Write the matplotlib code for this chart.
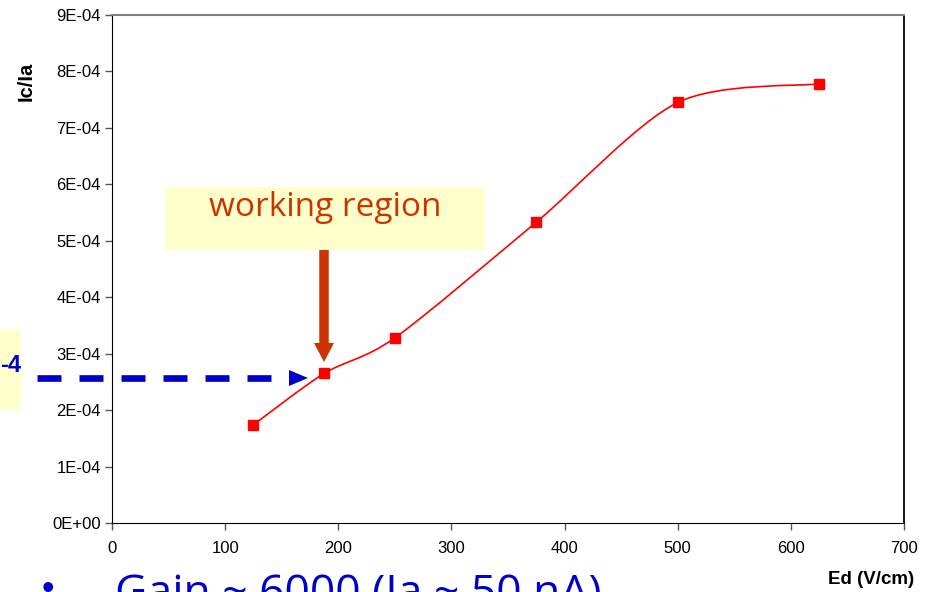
import numpy as np
import matplotlib.pyplot as plt
from matplotlib.path import Path
from matplotlib.patches import PathPatch, Rectangle, FancyArrow

# Ic/Ia ratio against drift field
ed = [125, 187.5, 250, 375, 500, 625]
ratio = [1.74e-4, 2.65e-4, 3.28e-4, 5.33e-4, 7.45e-4, 7.78e-4]

xticks = [0, 100, 200, 300, 400, 500, 600, 700]
yticks = [0, 1e-4, 2e-4, 3e-4, 4e-4, 5e-4, 6e-4, 7e-4, 8e-4, 9e-4]
ylabels = ['0E+00', '1E-04', '2E-04', '3E-04', '4E-04', '5E-04', '6E-04', '7E-04', '8E-04', '9E-04']

W, H = 935, 592
plt.rcParams['font.family'] = ['Liberation Sans', 'DejaVu Sans']

fig = plt.figure(figsize=(W / 100, H / 100), dpi=100)
ax = fig.add_axes([112 / W, 1 - 523 / H, (904 - 112) / W, (523 - 15) / H])


def fx(px):
    return px / W


def fy(py):
    return 1 - py / H


# smoothed line: cubic bezier segments through the points (Excel style)
pts = np.column_stack([ed, ratio])
ext = np.vstack([pts[0], pts, pts[-1]])
verts = [tuple(pts[0])]
codes = [Path.MOVETO]
for i in range(len(pts) - 1):
    p0, p1, p2, p3 = ext[i], ext[i + 1], ext[i + 2], ext[i + 3]
    c1 = p1 + (p2 - p0) / 7
    c2 = p2 - (p3 - p1) / 7
    verts += [tuple(c1), tuple(c2), tuple(p2)]
    codes += [Path.CURVE4] * 3
ax.add_patch(PathPatch(Path(verts, codes), facecolor='none', edgecolor='#FF0000', lw=1.2))
ax.plot(ed, ratio, linestyle='none', marker='s', markersize=6.5, color='#FF0000', zorder=3)

ax.set_xlim(0, 700)
ax.set_ylim(0, 9e-4)
ax.set_xticks(xticks)
ax.set_xticklabels([str(t) for t in xticks])
ax.set_yticks(yticks)
ax.set_yticklabels(ylabels)
ax.tick_params(direction='out', length=5, width=1, labelsize=12, color='#555555', pad=3)
ax.tick_params(axis='x', pad=8)
ax.spines['top'].set_color('#808080')
ax.spines['top'].set_linewidth(1.5)
for s in ['left', 'bottom', 'right']:
    ax.spines[s].set_color('black')
ax.spines['right'].set_linewidth(1.3)

fig.text(fx(26), fy(81), 'Ic/Ia', rotation=90, fontsize=14.5, fontweight='bold',
         ha='center', va='center')
fig.text(fx(871), fy(580), 'Ed (V/cm)', fontsize=13.5, fontweight='bold',
         ha='center', va='center')

# "working region" callout
fig.add_artist(Rectangle((fx(165), fy(250)), (485 - 165) / W, (250 - 187) / H,
                         transform=fig.transFigure, facecolor='#FFFFCC', edgecolor='none'))
fig.text(fx(325), fy(207), 'working region', fontsize=24, color='#CC3300',
         ha='center', va='center', family=['Open Sans', 'DejaVu Sans'])
fig.add_artist(FancyArrow(fx(324), fy(250), 0, -(362 - 250) / H, width=6 / H,
                          head_width=20 / W, head_length=19 / H, length_includes_head=True,
                          transform=fig.transFigure, color='#CC3300', lw=0))

# left callout (partly off the page)
fig.add_artist(Rectangle((fx(-40), fy(410)), 61 / W, 80 / H,
                         transform=fig.transFigure, facecolor='#FFFFCC', edgecolor='none'))
fig.text(fx(21), fy(365), '-4', fontsize=17, fontweight='bold', color='#0000CC',
         ha='right', va='center')
fig.add_artist(plt.Line2D([fx(37), fx(271)], [fy(378), fy(378)], transform=fig.transFigure,
                          color='#0000CC', lw=4.8, dashes=(3.6, 2.7), solid_capstyle='butt'))
fig.add_artist(plt.Polygon([(fx(289), fy(370)), (fx(289), fy(386)), (fx(308), fy(378))],
                           closed=True, transform=fig.transFigure, color='#0000CC', lw=0))

# bullet line at the bottom
fig.text(fx(48), fy(599), '•', fontsize=26, color='#0000CC', ha='center', va='baseline')
fig.text(fx(115), fy(606), 'Gain ~ 6000 (Ia ~ 50 nA)', fontsize=32, color='#0000CC',
         ha='left', va='baseline', family=['Open Sans', 'DejaVu Sans'])

fig.savefig('out.png', dpi=100)
